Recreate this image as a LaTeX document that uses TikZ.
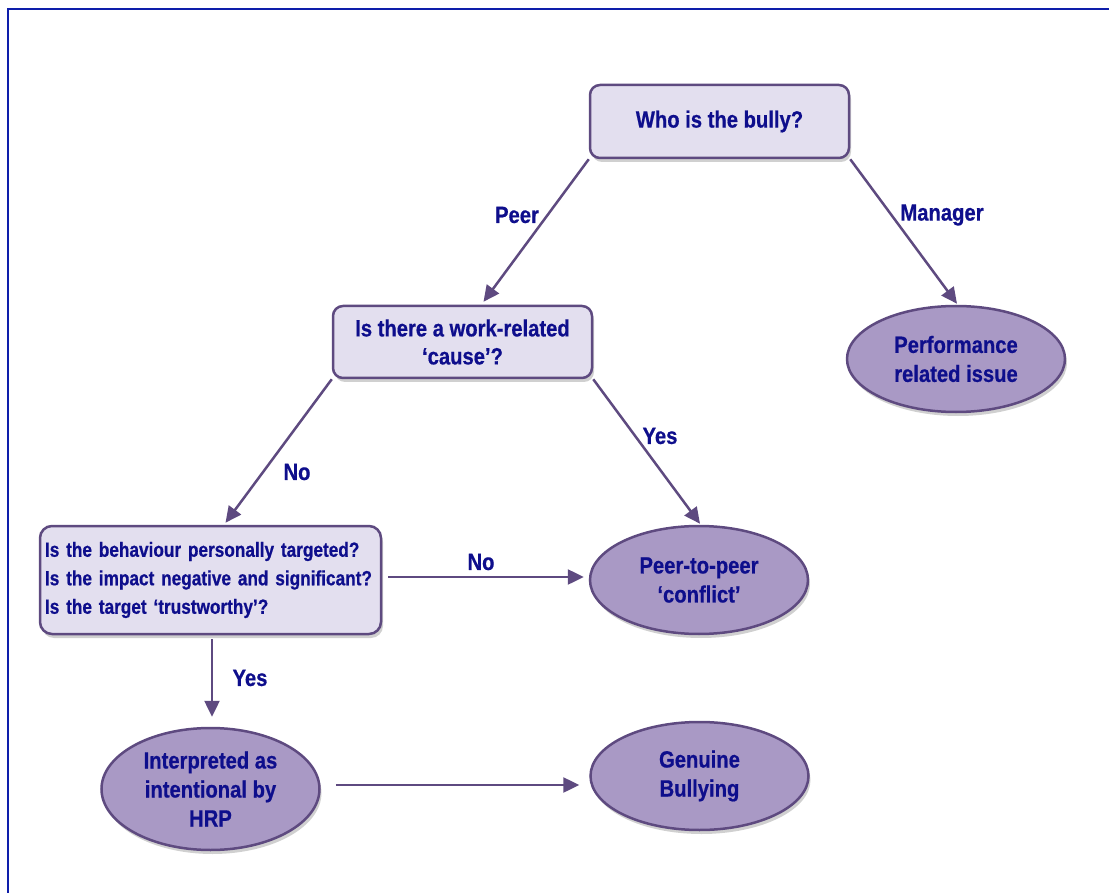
\documentclass[tikz,border=0pt]{standalone}
\usepackage{fontspec}
\newfontfamily\cond[FakeStretch=0.86, BoldFeatures={FakeBold=0.6}]{Liberation Sans}
\newfontfamily\condq[FakeStretch=0.84, BoldFeatures={FakeBold=0.6}]{Liberation Sans}
\newcommand\myqfont{\condq\bfseries\fontsize{20.5}{28.5}\selectfont\spaceskip=0.19em\relax}
\usetikzlibrary{shapes.geometric,arrows.meta,shadows,calc}
\definecolor{edge}{RGB}{94,74,128}
\definecolor{boxfill}{RGB}{227,223,239}
\definecolor{ellfill}{RGB}{169,153,197}
\definecolor{navy}{RGB}{14,14,140}
\definecolor{frame}{RGB}{14,30,170}
\tikzset{
  shad/.style={drop shadow={opacity=0.3, shadow xshift=2pt, shadow yshift=-4pt, fill=black!60}},
  box/.style={draw=edge, line width=2.5pt, fill=boxfill, rounded corners=10pt,
    minimum width=259pt, minimum height=73pt, align=center, text=navy,
    font=\cond\bfseries\fontsize{23.5}{28}\selectfont, shad},
  qbox/.style={draw=edge, line width=2.5pt, fill=boxfill, rounded corners=12pt,
    text width=331pt, inner xsep=5pt, minimum height=108pt, align=left, text=navy,
    font=\myqfont, shad},
  ell/.style={ellipse, draw=edge, line width=2.5pt, fill=ellfill, minimum width=218pt,
    minimum height=108pt, inner sep=0pt, align=center, text=navy,
    font=\cond\bfseries\fontsize{23.5}{29}\selectfont, shad},
  arr/.style={draw=edge, line width=2.5pt, -{Triangle[length=16pt,width=15pt]}},
  lab/.style={text=navy, font=\cond\bfseries\fontsize{23.5}{28}\selectfont, inner sep=0pt}
}
\begin{document}
\begin{tikzpicture}[x=1pt,y=-1pt]
\useasboundingbox (0,0) rectangle (1109,893);
\fill[white] (0,0) rectangle (1109,893);
\draw[frame, line width=2.4pt] (8,893) -- (8,9) -- (1109,9);

\node[box] (who) at (719.5,121.5) {Who is the bully?};
\node[box, minimum height=72pt] (work) at (462.5,342) {Is there a work-related\\‘cause’?};
\node[ell, minimum height=106pt] (perf) at (956,359) {Performance\\related issue};
\node[qbox] (q) at (210.5,580) {\mbox{Is the behaviour personally targeted?}\\\mbox{Is the impact negative and significant?}\\\mbox{Is the target ‘trustworthy’?}};
\node[ell] (peer) at (699,580) {Peer-to-peer\\‘conflict’};
\node[ell, minimum height=122pt] (interp) at (210.5,789) {Interpreted as\\intentional by\\HRP};
\node[ell] (gen) at (699.5,776) {Genuine\\Bullying};

\draw[arr] (who.south west) -- ($(work.north)+(21,-3)$);
\draw[arr] (who.south east) -- ($(perf.north)+(1,-1)$);
\draw[arr] (work.south west) -- ($(q.north)+(15,-2)$);
\draw[arr] (work.south east) -- ($(peer.north)+(1,-1)$);
\draw[arr] ($(q.east)+(6,-3)$) -- ($(peer.west)+(-5,-3)$);
\draw[arr] ($(q.south)+(1.5,4)$) -- ($(interp.north)+(1.5,-10)$);
\draw[arr] ($(interp.east)+(15,-4)$) -- ($(gen.west)+(-10,9)$);

\node[lab] (l1) at (517,215) {Peer};
\node[lab] (l2) at (942,215) {Manager};
\node[lab] (l3) at (297,472) {No};
\node[lab] (l4) at (660,436) {Yes};
\node[lab] (l5) at (481,562) {No};
\node[lab] (l6) at (250,678) {Yes};
\end{tikzpicture}
\end{document}
